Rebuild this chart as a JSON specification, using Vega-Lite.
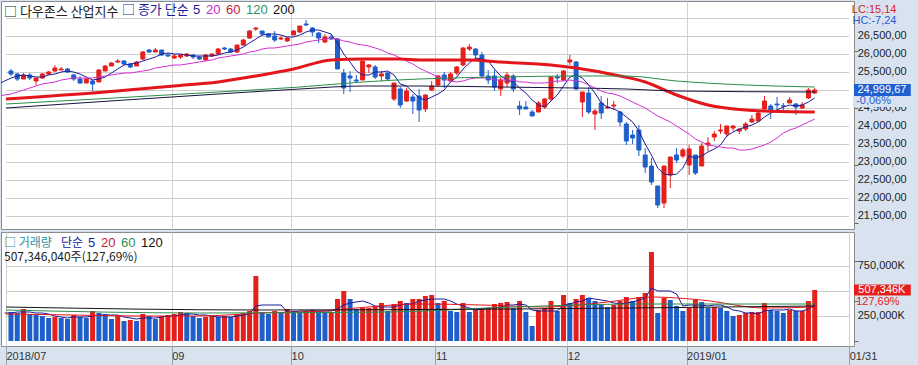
{
  "$schema": "https://vega.github.io/schema/vega-lite/v6.json",
  "background": "#d9e3f0",
  "padding": 0,
  "autosize": {"type": "pad"},
  "spacing": 1,
  "config": {
    "view": {"fill": "white", "stroke": "#8c8c8c", "strokeWidth": 1},
    "font": "Liberation Sans"
  },
  "title": {"text": "LC:15,14", "subtitle": "HC:-7,24", "anchor": "end", "orient": "top", "frame": "bounds", "offset": -25, "dx": -23,
    "font": "Liberation Sans", "fontSize": 11, "fontWeight": "normal", "color": "#d8232a",
    "subtitleFont": "Liberation Sans", "subtitleFontSize": 11, "subtitleColor": "#2a5ad0", "subtitlePadding": 0},
  "resolve": {"scale": {"x": "independent", "y": "independent", "color": "independent"}},
  "datasets": {
    "px": [
      {"i":-19,"d":"2018-06-29","c":24271.41},
      {"i":-18,"d":"2018-07-02","c":24307.18},
      {"i":-17,"d":"2018-07-03","c":24174.82},
      {"i":-16,"d":"2018-07-05","c":24356.74},
      {"i":-15,"d":"2018-07-06","c":24456.48},
      {"i":-14,"d":"2018-07-09","c":24776.59},
      {"i":-13,"d":"2018-07-10","c":24919.66},
      {"i":-12,"d":"2018-07-11","c":24700.45},
      {"i":-11,"d":"2018-07-12","c":24924.89},
      {"i":-10,"d":"2018-07-13","c":25019.41},
      {"i":-9,"d":"2018-07-16","c":25064.36},
      {"i":-8,"d":"2018-07-17","c":25119.89},
      {"i":-7,"d":"2018-07-18","c":25199.29},
      {"i":-6,"d":"2018-07-19","c":25064.5},
      {"i":-5,"d":"2018-07-20","c":25058.12},
      {"i":-4,"d":"2018-07-23","c":25044.29,"v":240000000},
      {"i":-3,"d":"2018-07-24","c":25241.94,"v":290000000},
      {"i":-2,"d":"2018-07-25","c":25414.1,"v":280000000},
      {"i":-1,"d":"2018-07-26","c":25527.07,"v":300000000},
      {"i":0,"d":"2018-07-27","o":25530,"h":25580,"l":25390,"c":25451.06,"v":290000000},
      {"i":1,"d":"2018-07-30","o":25460,"h":25490,"l":25250,"c":25306.83,"v":280000000},
      {"i":2,"d":"2018-07-31","o":25320,"h":25480,"l":25300,"c":25415.19,"v":320000000},
      {"i":3,"d":"2018-08-01","o":25430,"h":25470,"l":25290,"c":25333.82,"v":270000000},
      {"i":4,"d":"2018-08-02","o":25250,"h":25350,"l":25150,"c":25326.16,"v":260000000},
      {"i":5,"d":"2018-08-03","o":25330,"h":25480,"l":25320,"c":25462.58,"v":250000000},
      {"i":6,"d":"2018-08-06","o":25450,"h":25530,"l":25410,"c":25502.18,"v":230000000},
      {"i":7,"d":"2018-08-07","o":25520,"h":25700,"l":25510,"c":25628.91,"v":240000000},
      {"i":8,"d":"2018-08-08","o":25570,"h":25650,"l":25550,"c":25583.75,"v":230000000},
      {"i":9,"d":"2018-08-09","o":25600,"h":25620,"l":25490,"c":25509.23,"v":220000000},
      {"i":10,"d":"2018-08-10","o":25420,"h":25440,"l":25250,"c":25313.14,"v":260000000},
      {"i":11,"d":"2018-08-13","o":25320,"h":25390,"l":25170,"c":25187.7,"v":240000000},
      {"i":12,"d":"2018-08-14","o":25210,"h":25330,"l":25190,"c":25299.92,"v":230000000},
      {"i":13,"d":"2018-08-15","o":25260,"h":25270,"l":24970,"c":25162.41,"v":300000000},
      {"i":14,"d":"2018-08-16","o":25240,"h":25600,"l":25230,"c":25558.73,"v":280000000},
      {"i":15,"d":"2018-08-17","o":25540,"h":25700,"l":25520,"c":25669.32,"v":270000000},
      {"i":16,"d":"2018-08-20","o":25680,"h":25790,"l":25670,"c":25758.69,"v":220000000},
      {"i":17,"d":"2018-08-21","o":25770,"h":25880,"l":25750,"c":25822.29,"v":250000000},
      {"i":18,"d":"2018-08-22","o":25810,"h":25830,"l":25710,"c":25733.6,"v":200000000},
      {"i":19,"d":"2018-08-23","o":25740,"h":25760,"l":25630,"c":25656.98,"v":210000000},
      {"i":20,"d":"2018-08-24","o":25680,"h":25810,"l":25670,"c":25790.35,"v":200000000},
      {"i":21,"d":"2018-08-27","o":25860,"h":26080,"l":25850,"c":26049.64,"v":270000000},
      {"i":22,"d":"2018-08-28","o":26110,"h":26140,"l":26030,"c":26064.02,"v":250000000},
      {"i":23,"d":"2018-08-29","o":26060,"h":26170,"l":26050,"c":26124.57,"v":220000000},
      {"i":24,"d":"2018-08-30","o":26110,"h":26120,"l":25960,"c":25986.92,"v":250000000},
      {"i":25,"d":"2018-08-31","o":25990,"h":26040,"l":25930,"c":25964.82,"v":260000000},
      {"i":26,"d":"2018-09-04","o":25900,"h":26000,"l":25870,"c":25952.48,"v":270000000},
      {"i":27,"d":"2018-09-05","o":25930,"h":26010,"l":25880,"c":25974.99,"v":290000000},
      {"i":28,"d":"2018-09-06","o":25960,"h":26030,"l":25920,"c":25995.87,"v":280000000},
      {"i":29,"d":"2018-09-07","o":25980,"h":26000,"l":25870,"c":25916.54,"v":250000000},
      {"i":30,"d":"2018-09-10","o":25930,"h":25950,"l":25840,"c":25857.07,"v":230000000},
      {"i":31,"d":"2018-09-11","o":25830,"h":26010,"l":25820,"c":25971.06,"v":240000000},
      {"i":32,"d":"2018-09-12","o":25960,"h":26040,"l":25930,"c":25998.92,"v":250000000},
      {"i":33,"d":"2018-09-13","o":26020,"h":26170,"l":26010,"c":26145.99,"v":240000000},
      {"i":34,"d":"2018-09-14","o":26165,"h":26200,"l":26110,"c":26154.67,"v":250000000},
      {"i":35,"d":"2018-09-17","o":26150,"h":26170,"l":26040,"c":26062.12,"v":240000000},
      {"i":36,"d":"2018-09-18","o":26060,"h":26270,"l":26040,"c":26246.96,"v":270000000},
      {"i":37,"d":"2018-09-19","o":26250,"h":26420,"l":26240,"c":26405.76,"v":280000000},
      {"i":38,"d":"2018-09-20","o":26450,"h":26680,"l":26430,"c":26656.98,"v":300000000},
      {"i":39,"d":"2018-09-21","o":26700,"h":26770,"l":26660,"c":26743.5,"v":650000000},
      {"i":40,"d":"2018-09-24","o":26650,"h":26660,"l":26510,"c":26562.05,"v":290000000},
      {"i":41,"d":"2018-09-25","o":26570,"h":26600,"l":26470,"c":26492.21,"v":270000000},
      {"i":42,"d":"2018-09-26","o":26500,"h":26650,"l":26350,"c":26385.28,"v":300000000},
      {"i":43,"d":"2018-09-27","o":26420,"h":26500,"l":26400,"c":26439.93,"v":280000000},
      {"i":44,"d":"2018-09-28","o":26380,"h":26470,"l":26340,"c":26458.31,"v":320000000},
      {"i":45,"d":"2018-10-01","o":26550,"h":26680,"l":26540,"c":26651.21,"v":300000000},
      {"i":46,"d":"2018-10-02","o":26620,"h":26800,"l":26600,"c":26773.94,"v":290000000},
      {"i":47,"d":"2018-10-03","o":26840,"h":26952,"l":26780,"c":26828.39,"v":300000000},
      {"i":48,"d":"2018-10-04","o":26740,"h":26750,"l":26520,"c":26627.48,"v":310000000},
      {"i":49,"d":"2018-10-05","o":26590,"h":26620,"l":26300,"c":26447.05,"v":300000000},
      {"i":50,"d":"2018-10-08","o":26350,"h":26560,"l":26300,"c":26486.78,"v":290000000},
      {"i":51,"d":"2018-10-09","o":26480,"h":26560,"l":26390,"c":26430.57,"v":290000000},
      {"i":52,"d":"2018-10-10","o":26420,"h":26440,"l":25590,"c":25598.74,"v":420000000},
      {"i":53,"d":"2018-10-11","o":25480,"h":25600,"l":24900,"c":25052.83,"v":500000000},
      {"i":54,"d":"2018-10-12","o":25380,"h":25520,"l":24950,"c":25339.99,"v":420000000},
      {"i":55,"d":"2018-10-15","o":25290,"h":25420,"l":25190,"c":25250.55,"v":320000000},
      {"i":56,"d":"2018-10-16","o":25290,"h":25820,"l":25270,"c":25798.42,"v":330000000},
      {"i":57,"d":"2018-10-17","o":25650,"h":25740,"l":25480,"c":25706.68,"v":330000000},
      {"i":58,"d":"2018-10-18","o":25640,"h":25700,"l":25300,"c":25379.45,"v":340000000},
      {"i":59,"d":"2018-10-19","o":25400,"h":25520,"l":25250,"c":25444.34,"v":380000000},
      {"i":60,"d":"2018-10-22","o":25470,"h":25500,"l":25250,"c":25317.41,"v":300000000},
      {"i":61,"d":"2018-10-23","o":24760,"h":25200,"l":24700,"c":25191.43,"v":370000000},
      {"i":62,"d":"2018-10-24","o":25040,"h":25100,"l":24500,"c":24583.42,"v":400000000},
      {"i":63,"d":"2018-10-25","o":24690,"h":25060,"l":24660,"c":24984.55,"v":380000000},
      {"i":64,"d":"2018-10-26","o":24800,"h":24900,"l":24330,"c":24688.31,"v":420000000},
      {"i":65,"d":"2018-10-29","o":24850,"h":25040,"l":24122,"c":24442.92,"v":420000000},
      {"i":66,"d":"2018-10-30","o":24470,"h":24900,"l":24400,"c":24874.64,"v":450000000},
      {"i":67,"d":"2018-10-31","o":25000,"h":25250,"l":24980,"c":25115.76,"v":460000000},
      {"i":68,"d":"2018-11-01","o":25150,"h":25420,"l":25100,"c":25380.74,"v":380000000},
      {"i":69,"d":"2018-11-02","o":25420,"h":25500,"l":25050,"c":25270.83,"v":400000000},
      {"i":70,"d":"2018-11-05","o":25260,"h":25500,"l":25250,"c":25461.7,"v":300000000},
      {"i":71,"d":"2018-11-06","o":25470,"h":25660,"l":25430,"c":25635.01,"v":290000000},
      {"i":72,"d":"2018-11-07","o":25700,"h":26190,"l":25680,"c":26180.3,"v":380000000},
      {"i":73,"d":"2018-11-08","o":26150,"h":26280,"l":26100,"c":26191.22,"v":290000000},
      {"i":74,"d":"2018-11-09","o":26150,"h":26170,"l":25830,"c":25989.3,"v":310000000},
      {"i":75,"d":"2018-11-12","o":25990,"h":26050,"l":25330,"c":25387.18,"v":330000000},
      {"i":76,"d":"2018-11-13","o":25400,"h":25550,"l":25180,"c":25286.49,"v":330000000},
      {"i":77,"d":"2018-11-14","o":25390,"h":25550,"l":24980,"c":25080.5,"v":370000000},
      {"i":78,"d":"2018-11-15","o":25020,"h":25340,"l":24850,"c":25289.27,"v":380000000},
      {"i":79,"d":"2018-11-16","o":25200,"h":25500,"l":25100,"c":25413.22,"v":390000000},
      {"i":80,"d":"2018-11-19","o":25400,"h":25450,"l":24950,"c":25017.44,"v":330000000},
      {"i":81,"d":"2018-11-20","o":24560,"h":24700,"l":24300,"c":24465.64,"v":400000000},
      {"i":82,"d":"2018-11-21","o":24530,"h":24690,"l":24460,"c":24464.69,"v":290000000},
      {"i":83,"d":"2018-11-23","o":24400,"h":24450,"l":24270,"c":24285.95,"v":150000000},
      {"i":84,"d":"2018-11-26","o":24400,"h":24700,"l":24380,"c":24640.24,"v":310000000},
      {"i":85,"d":"2018-11-27","o":24530,"h":24770,"l":24460,"c":24748.73,"v":330000000},
      {"i":86,"d":"2018-11-28","o":24750,"h":25380,"l":24700,"c":25366.43,"v":400000000},
      {"i":87,"d":"2018-11-29","o":25360,"h":25450,"l":25200,"c":25338.84,"v":300000000},
      {"i":88,"d":"2018-11-30","o":25270,"h":25550,"l":25250,"c":25538.46,"v":460000000},
      {"i":89,"d":"2018-12-03","o":25780,"h":25980,"l":25700,"c":25826.43,"v":380000000},
      {"i":90,"d":"2018-12-04","o":25780,"h":25800,"l":25000,"c":25027.07,"v":420000000},
      {"i":91,"d":"2018-12-06","o":24680,"h":24960,"l":24240,"c":24947.67,"v":460000000},
      {"i":92,"d":"2018-12-07","o":24920,"h":25100,"l":24340,"c":24388.95,"v":430000000},
      {"i":93,"d":"2018-12-10","o":24330,"h":24480,"l":23880,"c":24423.26,"v":400000000},
      {"i":94,"d":"2018-12-11","o":24650,"h":24850,"l":24200,"c":24370.24,"v":360000000},
      {"i":95,"d":"2018-12-12","o":24500,"h":24770,"l":24480,"c":24527.27,"v":340000000},
      {"i":96,"d":"2018-12-13","o":24560,"h":24700,"l":24450,"c":24597.38,"v":360000000},
      {"i":97,"d":"2018-12-14","o":24400,"h":24430,"l":24000,"c":24100.51,"v":400000000},
      {"i":98,"d":"2018-12-17","o":24050,"h":24100,"l":23470,"c":23592.98,"v":440000000},
      {"i":99,"d":"2018-12-18","o":23760,"h":23900,"l":23510,"c":23675.64,"v":400000000},
      {"i":100,"d":"2018-12-19","o":23880,"h":24030,"l":23150,"c":23323.66,"v":440000000},
      {"i":101,"d":"2018-12-20","o":23200,"h":23400,"l":22700,"c":22859.6,"v":480000000},
      {"i":102,"d":"2018-12-21","o":22890,"h":23100,"l":22350,"c":22445.37,"v":890000000},
      {"i":103,"d":"2018-12-24","o":22320,"h":22340,"l":21713,"c":21792.2,"v":280000000},
      {"i":104,"d":"2018-12-26","o":21860,"h":22880,"l":21712,"c":22878.45,"v":430000000},
      {"i":105,"d":"2018-12-27","o":22630,"h":23140,"l":22267,"c":23138.82,"v":410000000},
      {"i":106,"d":"2018-12-28","o":23180,"h":23380,"l":22980,"c":23062.4,"v":350000000},
      {"i":107,"d":"2018-12-31","o":23150,"h":23380,"l":23100,"c":23327.46,"v":300000000},
      {"i":108,"d":"2019-01-02","o":22900,"h":23470,"l":22640,"c":23346.24,"v":330000000},
      {"i":109,"d":"2019-01-03","o":23180,"h":23200,"l":22640,"c":22686.22,"v":410000000},
      {"i":110,"d":"2019-01-04","o":22890,"h":23520,"l":22880,"c":23433.16,"v":390000000},
      {"i":111,"d":"2019-01-07","o":23470,"h":23690,"l":23300,"c":23531.35,"v":330000000},
      {"i":112,"d":"2019-01-08","o":23680,"h":23860,"l":23590,"c":23787.45,"v":340000000},
      {"i":113,"d":"2019-01-09","o":23860,"h":24050,"l":23790,"c":23879.12,"v":330000000},
      {"i":114,"d":"2019-01-10","o":23780,"h":24010,"l":23700,"c":24001.92,"v":300000000},
      {"i":115,"d":"2019-01-11","o":23940,"h":24020,"l":23850,"c":23995.95,"v":250000000},
      {"i":116,"d":"2019-01-14","o":23870,"h":23930,"l":23780,"c":23909.84,"v":260000000},
      {"i":117,"d":"2019-01-15","o":23920,"h":24100,"l":23870,"c":24065.59,"v":280000000},
      {"i":118,"d":"2019-01-16","o":24100,"h":24320,"l":24080,"c":24207.16,"v":290000000},
      {"i":119,"d":"2019-01-17","o":24130,"h":24410,"l":24100,"c":24370.1,"v":290000000},
      {"i":120,"d":"2019-01-18","o":24460,"h":24830,"l":24440,"c":24706.35,"v":380000000},
      {"i":121,"d":"2019-01-22","o":24550,"h":24600,"l":24200,"c":24404.48,"v":310000000},
      {"i":122,"d":"2019-01-23","o":24600,"h":24800,"l":24400,"c":24575.62,"v":300000000},
      {"i":123,"d":"2019-01-24","o":24570,"h":24640,"l":24450,"c":24553.24,"v":280000000},
      {"i":124,"d":"2019-01-25","o":24650,"h":24800,"l":24630,"c":24737.2,"v":310000000},
      {"i":125,"d":"2019-01-28","o":24600,"h":24630,"l":24300,"c":24528.22,"v":300000000},
      {"i":126,"d":"2019-01-29","o":24500,"h":24680,"l":24480,"c":24579.96,"v":300000000},
      {"i":127,"d":"2019-01-30","o":24780,"h":25060,"l":24740,"c":25014.86,"v":397340000},
      {"i":128,"d":"2019-01-31","o":24920,"h":25050,"l":24880,"c":24999.67,"v":507346040}
    ],
    "ma": [
      {"i":-0.79,"key":"60","val":24760},{"i":15,"key":"60","val":24946},{"i":26,"key":"60","val":25106},{"i":33,"key":"60","val":25213},{"i":39,"key":"60","val":25391},{"i":45,"key":"60","val":25586},{"i":51,"key":"60","val":25834},{"i":56,"key":"60","val":25879},{"i":62,"key":"60","val":25860},{"i":65,"key":"60","val":25830},{"i":73,"key":"60","val":25852},{"i":78,"key":"60","val":25791},{"i":86,"key":"60","val":25700},{"i":90,"key":"60","val":25626},{"i":97,"key":"60","val":25407},{"i":101,"key":"60","val":25213},{"i":106,"key":"60","val":24858},{"i":111,"key":"60","val":24592},{"i":117,"key":"60","val":24459},{"i":120,"key":"60","val":24413},{"i":128,"key":"60","val":24395},
      {"i":-0.79,"key":"120","val":24619},{"i":33,"key":"120","val":24946},{"i":46,"key":"120","val":25080},{"i":56,"key":"120","val":25213},{"i":65,"key":"120","val":25319},{"i":78,"key":"120","val":25373},{"i":90,"key":"120","val":25407},{"i":98,"key":"120","val":25395},{"i":106,"key":"120","val":25258},{"i":117,"key":"120","val":25152},{"i":128,"key":"120","val":25098},
      {"i":-0.79,"key":"200","val":24501},{"i":33,"key":"200","val":24901},{"i":46,"key":"200","val":25018},{"i":56,"key":"200","val":25106},{"i":65,"key":"200","val":25106},{"i":78,"key":"200","val":25090},{"i":90,"key":"200","val":25065},{"i":98,"key":"200","val":25040},{"i":106,"key":"200","val":24965},{"i":128,"key":"200","val":24946}
    ],
    "vma": [
      {"i":-0.79,"key":"20","val":275000000},{"i":10,"key":"20","val":265000000},{"i":20,"key":"20","val":250000000},{"i":30,"key":"20","val":250000000},{"i":40,"key":"20","val":285000000},{"i":50,"key":"20","val":305000000},{"i":55,"key":"20","val":330000000},{"i":65,"key":"20","val":370000000},{"i":75,"key":"20","val":360000000},{"i":85,"key":"20","val":345000000},{"i":95,"key":"20","val":395000000},{"i":102,"key":"20","val":440000000},{"i":110,"key":"20","val":410000000},{"i":120,"key":"20","val":330000000},{"i":128,"key":"20","val":340000000},
      {"i":-0.79,"key":"60","val":310000000},{"i":30,"key":"60","val":280000000},{"i":60,"key":"60","val":295000000},{"i":80,"key":"60","val":340000000},{"i":100,"key":"60","val":375000000},{"i":128,"key":"60","val":370000000},
      {"i":-0.79,"key":"120","val":340000000},{"i":40,"key":"120","val":310000000},{"i":80,"key":"120","val":320000000},{"i":128,"key":"120","val":350000000}
    ],
    "lvp": [
      {"p":21500},{"p":22000},{"p":22500},{"p":23000},{"p":23500},{"p":24000},{"p":24500},{"p":25000},{"p":25500},{"p":26000},{"p":26500},{"p":27000}
    ],
    "lvv": [
      {"p":250000000},{"p":500000000},{"p":750000000}
    ]
  },
  "vconcat": [
    {
      "width": 853,
      "height": 228,
      "title": {"text": "□ 다우존스 산업지수", "anchor": "start", "frame": "group", "offset": -18, "dx": 3, "font": "Noto Sans CJK KR", "fontSize": 13, "fontWeight": "normal", "color": "#222222"},
      "layer": [
        {
          "data": {"name": "lvp"},
          "mark": {"type": "rect", "color": "#cccccc", "y2Offset": 1},
          "encoding": {
            "x": {"datum": -0.79, "type": "quantitative"},
            "x2": {"datum": 133.46},
            "y": {"field": "p", "type": "quantitative", "scale": {"domain": [21268, 27345], "nice": false, "zero": false, "round": true},
              "axis": {"orient": "right", "title": null, "domain": false, "labels": false, "grid": false, "minExtent": 65, "maxExtent": 65,
                "values": [21300,21400,21500,21600,21700,21800,21900,22000,22100,22200,22300,22400,22500,22600,22700,22800,22900,23000,23100,23200,23300,23400,23500,23600,23700,23800,23900,24000,24100,24200,24300,24400,24500,24600,24700,24800,24900,25000,25100,25200,25300,25400,25500,25600,25700,25800,25900,26000,26100,26200,26300,26400,26500,26600,26700,26800,26900,27000,27100,27200,27300],
                "tickColor": "#666666", "tickSize": 4}},
            "y2": {"field": "p"}
          }
        },
        {
          "data": {"name": "px"},
          "transform": [{"filter": "datum.i >= 0"}],
          "mark": {"type": "rule", "clip": true},
          "encoding": {
            "x": {"field": "i", "type": "quantitative", "scale": {"domain": [-0.79, 133.46], "nice": false, "zero": false},
              "axis": {"values": [25.6, 44.6, 67.6, 88.6, 107.6], "labels": false, "ticks": false, "domain": false, "grid": true, "gridColor": "#d0d0d0", "title": null, "minExtent": 0, "maxExtent": 0}},
            "y": {"field": "l", "type": "quantitative"},
            "y2": {"field": "h"},
            "color": {"condition": {"test": "datum.c >= datum.o", "value": "#e5201c"}, "value": "#1f5fc9"}
          }
        },
        {
          "data": {"name": "px"},
          "transform": [{"filter": "datum.i >= 0"}],
          "mark": {"type": "bar", "size": 4, "clip": true, "strokeWidth": 1},
          "encoding": {
            "x": {"field": "i", "type": "quantitative"},
            "y": {"field": "o", "type": "quantitative"},
            "y2": {"field": "c"},
            "color": {"condition": {"test": "datum.c >= datum.o", "value": "#e5201c"}, "value": "#1f5fc9"},
            "stroke": {"condition": {"test": "datum.c >= datum.o", "value": "#e5201c"}, "value": "#1f5fc9"}
          }
        },
        {
          "data": {"name": "px"},
          "transform": [
            {"window": [{"op": "mean", "field": "c", "as": "5"}], "frame": [-4, 0], "sort": [{"field": "i"}]},
            {"window": [{"op": "mean", "field": "c", "as": "20"}], "frame": [-19, 0], "sort": [{"field": "i"}]},
            {"fold": ["5", "20"], "as": ["key", "val"]}
          ],
          "mark": {"type": "line", "clip": true, "strokeWidth": 1},
          "encoding": {
            "x": {"field": "i", "type": "quantitative"},
            "y": {"field": "val", "type": "quantitative"},
            "color": {"field": "key", "type": "nominal",
              "scale": {"domain": ["5", "20", "60", "120", "200"], "range": ["#1b1b9a", "#d22fd2", "#e3161c", "#2a8c4a", "#141440"]},
              "legend": {"orient": "none", "legendX": 121, "legendY": 2, "direction": "horizontal", "title": "□ 종가 단순", "titleOrient": "left",
                "titleFont": "Noto Sans CJK KR", "titleFontSize": 13, "titleFontWeight": "normal", "titleColor": "#1b1b9a", "titlePadding": 4,
                "labelFont": "Liberation Sans", "labelFontSize": 13, "labelColor": "#1b1b9a", "symbolType": "square", "symbolSize": 0, "symbolStrokeWidth": 0, "symbolOpacity": 0,
                "labelOffset": -13, "columnPadding": 5, "padding": 0,
                "encoding": {"labels": {"fill": {"condition": [
                  {"test": "datum.label === '20'", "value": "#c42cc4"},
                  {"test": "datum.label === '60'", "value": "#c0203a"},
                  {"test": "datum.label === '120'", "value": "#2f8f5a"},
                  {"test": "datum.label === '200'", "value": "#111111"}], "value": "#1b1b9a"}}}}},
            "strokeWidth": {"condition": {"test": "datum.key === '60'", "value": 3}, "value": 1}
          }
        },
        {
          "data": {"name": "ma"},
          "mark": {"type": "line", "clip": true, "interpolate": "monotone"},
          "encoding": {
            "x": {"field": "i", "type": "quantitative"},
            "y": {"field": "val", "type": "quantitative"},
            "color": {"field": "key", "type": "nominal"},
            "strokeWidth": {"condition": {"test": "datum.key === '60'", "value": 3}, "value": 1}
          }
        },
        {
          "data": {"name": "lvp"},
          "transform": [{"filter": "datum.p < 27000"}],
          "mark": {"type": "text", "align": "left", "baseline": "middle", "font": "Liberation Sans", "fontSize": 11, "color": "#222222"},
          "encoding": {
            "x": {"datum": 134.85, "type": "quantitative"},
            "y": {"field": "p", "type": "quantitative"},
            "text": {"value": {"expr": "replace(format(datum.p, ',.2f'), '.', ',')"}}
          }
        },
        {
          "data": {"name": "px"},
          "transform": [{"filter": "datum.i === 128"}],
          "mark": {"type": "bar", "size": 12, "color": "#1f5fd0"},
          "encoding": {
            "x": {"datum": 134.25, "type": "quantitative"},
            "x2": {"datum": 143.3},
            "y": {"field": "c", "type": "quantitative"}
          }
        },
        {
          "data": {"name": "px"},
          "transform": [{"filter": "datum.i === 128"}],
          "mark": {"type": "text", "color": "white", "font": "Liberation Sans", "fontSize": 11, "align": "center", "baseline": "middle"},
          "encoding": {
            "x": {"datum": 138.7, "type": "quantitative"},
            "y": {"field": "c", "type": "quantitative"},
            "text": {"value": {"expr": "replace(format(datum.c, ',.2f'), '.', ',')"}}
          }
        },
        {
          "data": {"name": "px"},
          "transform": [{"filter": "datum.i === 128"}],
          "mark": {"type": "rect", "color": "#d9e3f0", "yOffset": 6, "y2Offset": 17},
          "encoding": {
            "x": {"datum": 134.1, "type": "quantitative"},
            "x2": {"datum": 143.4},
            "y": {"field": "c", "type": "quantitative"},
            "y2": {"field": "c"}
          }
        },
        {
          "data": {"name": "px"},
          "transform": [{"filter": "datum.i === 128"}],
          "mark": {"type": "text", "color": "#2a5ad0", "font": "Liberation Sans", "fontSize": 11, "align": "left", "baseline": "middle", "dy": 11},
          "encoding": {
            "x": {"datum": 134.6, "type": "quantitative"},
            "y": {"field": "c", "type": "quantitative"},
            "text": {"value": "-0,06%"}
          }
        }
      ]
    },
    {
      "width": 853,
      "height": 114,
      "title": {"text": "□ 거래량", "subtitle": "507,346,040주(127,69%)", "anchor": "start", "frame": "group", "offset": -32, "dx": 3,
        "font": "Noto Sans CJK KR", "fontSize": 12, "fontWeight": "normal", "color": "#2f8f9d",
        "subtitleFont": "Noto Sans CJK KR", "subtitleFontSize": 12, "subtitleColor": "#222222", "subtitlePadding": 2},
      "layer": [
        {
          "data": {"name": "lvv"},
          "mark": {"type": "rect", "color": "#cccccc", "y2Offset": 1},
          "encoding": {
            "x": {"datum": -0.79, "type": "quantitative"},
            "x2": {"datum": 133.46},
            "y": {"field": "p", "type": "quantitative", "scale": {"domain": [0, 1042700000], "nice": false, "zero": false, "round": true},
              "axis": {"orient": "right", "title": null, "domain": false, "labels": false, "minExtent": 65, "maxExtent": 65, "grid": false,
                "values": [0,50000000,100000000,150000000,200000000,250000000,300000000,350000000,400000000,450000000,500000000,550000000,600000000,650000000,700000000,750000000,800000000,850000000,900000000,950000000,1000000000],
                "tickColor": "#666666", "tickSize": 4}},
            "y2": {"field": "p"}
          }
        },
        {
          "data": {"name": "px"},
          "transform": [
            {"window": [{"op": "lag", "field": "v", "as": "pv"}], "sort": [{"field": "i"}]},
            {"filter": "datum.i >= 0"}
          ],
          "mark": {"type": "bar", "size": 5, "clip": true},
          "encoding": {
            "x": {"field": "i", "type": "quantitative", "scale": {"domain": [-0.79, 133.46], "nice": false, "zero": false},
              "axis": {"values": [-0.79, 25.6, 44.6, 67.6, 88.6, 107.6, 133.5], "title": null, "domain": false,
                "labelExpr": "datum.value < 0 ? '2018/07' : datum.value < 30 ? '09' : datum.value < 50 ? '10' : datum.value < 70 ? '11' : datum.value < 90 ? '12' : datum.value < 120 ? '2019/01' : '01/31'",
                "labelAlign": "left", "labelBaseline": "middle", "labelDx": 3, "labelPadding": -12, "labelFont": "Liberation Sans", "labelFontSize": 11, "labelColor": "#333333",
                "labelOverlap": false, "labelBound": false, "labelFlush": false,
                "tickSize": 22, "tickColor": "#9aa3ad", "grid": true, "gridColor": "#d0d0d0", "minExtent": 22, "maxExtent": 22}},
            "y": {"field": "v", "type": "quantitative", "stack": null},
            "color": {"condition": {"test": "datum.v >= datum.pv", "value": "#e5201c"}, "value": "#1f5fc9"}
          }
        },
        {
          "data": {"name": "px"},
          "transform": [
            {"window": [{"op": "mean", "field": "v", "as": "5"}], "frame": [-4, 0], "sort": [{"field": "i"}]},
            {"filter": "datum.i >= -1"},
            {"fold": ["5"], "as": ["key", "val"]}
          ],
          "mark": {"type": "line", "clip": true, "strokeWidth": 1},
          "encoding": {
            "x": {"field": "i", "type": "quantitative"},
            "y": {"field": "val", "type": "quantitative"},
            "color": {"field": "key", "type": "nominal",
              "scale": {"domain": ["5", "20", "60", "120"], "range": ["#1b1b9a", "#e3161c", "#2a8c4a", "#141414"]},
              "legend": {"orient": "none", "legendX": 60, "legendY": 4, "direction": "horizontal", "title": "단순", "titleOrient": "left",
                "titleFont": "Noto Sans CJK KR", "titleFontSize": 12, "titleFontWeight": "normal", "titleColor": "#1b1b9a", "titlePadding": 4,
                "labelFont": "Liberation Sans", "labelFontSize": 13, "labelColor": "#1b1b9a", "symbolType": "square", "symbolSize": 0, "symbolStrokeWidth": 0, "symbolOpacity": 0,
                "labelOffset": -13, "columnPadding": 5, "padding": 0,
                "encoding": {"labels": {"fill": {"condition": [
                  {"test": "datum.label === '20'", "value": "#c0203a"},
                  {"test": "datum.label === '60'", "value": "#2f8f5a"},
                  {"test": "datum.label === '120'", "value": "#111111"}], "value": "#1b1b9a"}}}}}
          }
        },
        {
          "data": {"name": "vma"},
          "mark": {"type": "line", "clip": true, "strokeWidth": 1, "interpolate": "monotone"},
          "encoding": {
            "x": {"field": "i", "type": "quantitative"},
            "y": {"field": "val", "type": "quantitative"},
            "color": {"field": "key", "type": "nominal"}
          }
        },
        {
          "data": {"name": "lvv"},
          "transform": [{"filter": "datum.p !== 500000000"}],
          "mark": {"type": "text", "align": "left", "baseline": "middle", "font": "Liberation Sans", "fontSize": 11, "color": "#222222"},
          "encoding": {
            "x": {"datum": 134.85, "type": "quantitative"},
            "y": {"field": "p", "type": "quantitative"},
            "text": {"value": {"expr": "format(datum.p / 1000, ',') + 'K'"}}
          }
        },
        {
          "data": {"name": "px"},
          "transform": [{"filter": "datum.i === 128"}],
          "mark": {"type": "bar", "size": 11, "color": "#e5201c"},
          "encoding": {
            "x": {"datum": 134.25, "type": "quantitative"},
            "x2": {"datum": 143.3},
            "y": {"field": "v", "type": "quantitative"}
          }
        },
        {
          "data": {"name": "px"},
          "transform": [{"filter": "datum.i === 128"}],
          "mark": {"type": "text", "color": "white", "font": "Liberation Sans", "fontSize": 11, "align": "center", "baseline": "middle"},
          "encoding": {
            "x": {"datum": 138.7, "type": "quantitative"},
            "y": {"field": "v", "type": "quantitative"},
            "text": {"value": {"expr": "format(datum.v / 1000, ',.0f') + 'K'"}}
          }
        },
        {
          "data": {"name": "px"},
          "transform": [{"filter": "datum.i === 128"}],
          "mark": {"type": "text", "color": "#e5201c", "font": "Liberation Sans", "fontSize": 11, "align": "left", "baseline": "middle", "dy": 12},
          "encoding": {
            "x": {"datum": 134.6, "type": "quantitative"},
            "y": {"field": "v", "type": "quantitative"},
            "text": {"value": "127,69%"}
          }
        }
      ]
    }
  ]
}
